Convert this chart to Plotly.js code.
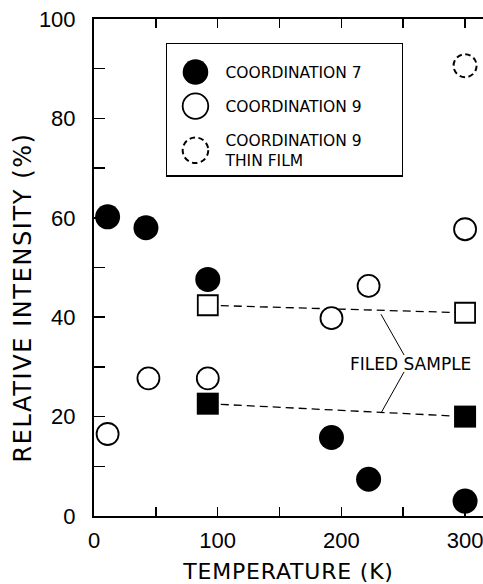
<!DOCTYPE html>
<html>
<head>
<meta charset="utf-8">
<script src="https://cdn.plot.ly/plotly-3.0.1.min.js"></script>
<style>
html, body { margin: 0; padding: 0; background: #fff; }
#chart { width: 483px; height: 584px; }
</style>
</head>
<body>
<div id="chart"></div>
<script>
// ---- data ----
const tempCoord7 = [11, 42, 92, 192, 222, 300];
const relCoord7  = [60.2, 58.0, 47.6, 15.8, 7.4, 3.0];

const tempCoord9 = [11, 44, 92, 192, 222, 300];
const relCoord9  = [16.5, 27.7, 27.7, 39.8, 46.3, 57.7];

const tempThinFilm = [300];
const relThinFilm  = [90.6];

const tempFiled   = [92, 300];
const relFiled9   = [42.4, 40.9];
const relFiled7   = [22.6, 20.0];

const xTickVals = [0, 100, 200, 300];
const xTickText = ['0', '100', '200', '300'];
const yTickVals = [0, 20, 40, 60, 80, 100];
const yTickText = ['0', '20', '40', '60', '80', '100'];

// leader lines of the "FILED SAMPLE" label (from label to the two dashed lines)
const leaderFromX = [250.7, 250.7];
const leaderFromY = [32.4, 29.0];
const leaderToX   = [232, 232];
const leaderToY   = [40.6, 20.7];

const labelFont = 'DejaVu Sans, sans-serif';
const tickFont = 'Liberation Sans, Arial, sans-serif';

const traces = [
  {
    x: tempFiled, y: relFiled9, mode: 'lines+markers', showlegend: false,
    name: 'Filed sample, coordination 9',
    line: { color: '#000', width: 1.3, dash: '8px,5px' },
    marker: { symbol: 'square', size: 20, color: '#fff', line: { color: '#000', width: 1.8 } }
  },
  {
    x: tempFiled, y: relFiled7, mode: 'lines+markers', showlegend: false,
    name: 'Filed sample, coordination 7',
    line: { color: '#000', width: 1.3, dash: '8px,5px' },
    marker: { symbol: 'square', size: 22, color: '#000', line: { color: '#000', width: 0 } }
  },
  {
    x: tempCoord7, y: relCoord7, mode: 'markers', name: 'COORDINATION 7',
    legendgroup: 'a',
    marker: { symbol: 'circle', size: 25, color: '#000', line: { color: '#000', width: 0 } }
  },
  {
    x: tempCoord9, y: relCoord9, mode: 'markers', name: 'COORDINATION 9',
    legendgroup: 'b',
    marker: { symbol: 'circle', size: 22, color: '#fff', line: { color: '#000', width: 1.8 } }
  },
  {
    x: tempThinFilm, y: relThinFilm, mode: 'markers', name: 'COORDINATION 9<br>THIN FILM',
    legendgroup: 'c',
    marker: { symbol: 'circle', size: 23, color: 'rgba(255,255,255,0)', line: { color: '#000', width: 2 } }
  }
];

const shapes = leaderFromX.map((_, i) => ({
  type: 'line', xref: 'x', yref: 'y',
  x0: leaderFromX[i], y0: leaderFromY[i], x1: leaderToX[i], y1: leaderToY[i],
  line: { color: '#000', width: 1 }
}));

const layout = {
  width: 483, height: 584,
  margin: { l: 94, r: 0, t: 19, b: 68 },
  paper_bgcolor: '#fff', plot_bgcolor: '#fff',
  showlegend: true,
  legend: {
    x: 0.185, xanchor: 'left', y: 0.952, yanchor: 'top',
    bgcolor: '#fff', bordercolor: '#000', borderwidth: 1.5,
    font: { family: labelFont, size: 15.5, color: '#000' },
    traceorder: 'grouped', tracegroupgap: 11,
    itemwidth: 50, indentation: -2, itemsizing: 'trace'
  },
  xaxis: {
    range: [0, 314.5], showgrid: false, zeroline: false,
    showline: true, linecolor: '#000', linewidth: 2, mirror: 'ticks',
    ticks: 'inside', ticklen: 9, tickwidth: 1.5, tickcolor: '#000',
    tickvals: xTickVals, ticktext: xTickText,
    minor: { dtick: 50, tick0: 0, ticks: 'inside', ticklen: 9, tickwidth: 1.5, tickcolor: '#000' },
    tickfont: { family: tickFont, size: 22, color: '#000' },
    ticklabelstandoff: 4, ticklabeloverflow: 'allow',
    title: { text: 'TEMPERATURE (K)', font: { family: labelFont, size: 22, color: '#000' }, standoff: 21 }
  },
  yaxis: {
    range: [0, 100], showgrid: false, zeroline: false,
    showline: true, linecolor: '#000', linewidth: 2,
    ticks: 'inside', ticklen: 11, tickwidth: 1.5, tickcolor: '#000',
    tickvals: yTickVals, ticktext: yTickText,
    minor: { dtick: 10, tick0: 0, ticks: 'inside', ticklen: 11, tickwidth: 1.5, tickcolor: '#000' },
    tickfont: { family: tickFont, size: 22, color: '#000' },
    ticklabelstandoff: 12, ticklabeloverflow: 'allow',
    title: { text: 'RELATIVE INTENSITY (%)', font: { family: labelFont, size: 24, color: '#000' }, standoff: 0 }
  },
  shapes: shapes,
  annotations: [{
    xref: 'x', yref: 'y', x: 255.9, y: 30.6, text: 'FILED SAMPLE',
    showarrow: false, bgcolor: 'rgba(0,0,0,0)',
    font: { family: labelFont, size: 17, color: '#000' }
  }]
};

Plotly.newPlot('chart', traces, layout, { displayModeBar: false, staticPlot: true }).then(gd => {
  // dashed outline for the thin-film point (plot and legend)
  gd.querySelectorAll('.scatterlayer .trace').forEach(g => {
    const d = g.__data__;
    if (d && d[0] && d[0].trace && d[0].trace.legendgroup === 'c') {
      g.querySelectorAll('.points path').forEach(p => p.style.strokeDasharray = '5.5,3.5');
    }
  });
  gd.querySelectorAll('.legend .traces').forEach(g => {
    const d = g.__data__;
    g.querySelectorAll('.legendpoints path').forEach(p => {
      const t = p.getAttribute('transform') || '';
      p.setAttribute('transform', t + ' scale(1.6)');
      p.style.vectorEffect = 'non-scaling-stroke';
      if (d && d[0] && d[0].trace && d[0].trace.legendgroup === 'c') p.style.strokeDasharray = '5.5,3.5';
    });
  });
  // legend box: extra top padding and wider frame as in the reference
  const leg = gd.querySelector('.legend');
  if (leg) {
    const bg = leg.querySelector('rect.bg');
    if (bg) {
      bg.setAttribute('width', 236);
      bg.setAttribute('height', (+bg.getAttribute('height')) + 9);
    }
    const sb = leg.querySelector('.scrollbox');
    if (sb) {
      sb.removeAttribute('clip-path');
      sb.setAttribute('transform', 'translate(0,11)');
    }
  }
  // axis titles: letter spacing and position as in the reference
  const xt = gd.querySelector('.g-xtitle text');
  if (xt) xt.style.letterSpacing = '0.8px';
  const yt = gd.querySelector('.g-ytitle');
  if (yt) {
    const t = yt.querySelector('text');
    if (t) t.style.letterSpacing = '1.6px';
    yt.setAttribute('transform', 'translate(0,30)');
  }
});
</script>
</body>
</html>
